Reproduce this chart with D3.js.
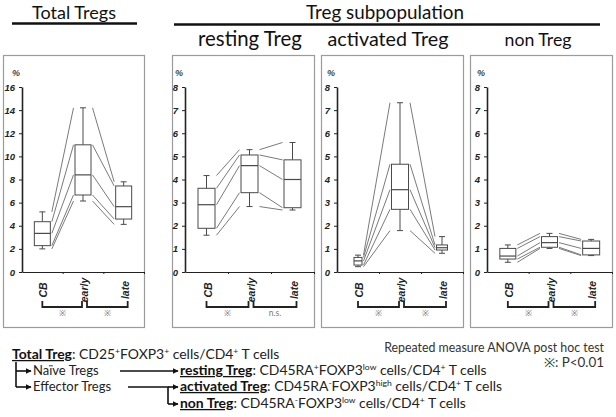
<!DOCTYPE html>
<html><head><meta charset="utf-8">
<script src="https://cdn.jsdelivr.net/npm/d3@7"></script>
<style>body{margin:0;background:#fff} svg{display:block}</style>
</head><body>
<svg id="c" width="616" height="417"></svg>
<script>
// ---------- data ----------
const categories = ["CB", "early", "late"];
// each entry: [min, q1, median, q3, max]
const totalTregs    = [[2.0, 2.28, 3.34, 4.35, 5.2], [6.14, 6.66, 8.4, 11.0, 14.2], [4.12, 4.58, 5.65, 7.44, 7.8]];
const restingTreg   = [[1.59, 1.89, 2.91, 3.62, 4.17], [2.83, 3.43, 4.6, 5.06, 5.29], [2.68, 2.78, 4.0, 4.85, 5.6]];
const activatedTreg = [[0.23, 0.30, 0.48, 0.63, 0.73], [1.79, 2.71, 3.56, 4.66, 7.32], [0.81, 0.95, 1.05, 1.17, 1.53]];
const nonTreg       = [[0.42, 0.56, 0.69, 1.02, 1.17], [1.02, 1.07, 1.27, 1.53, 1.67], [0.71, 0.74, 1.02, 1.34, 1.41]];
const totalTicks  = [0, 2, 4, 6, 8, 10, 12, 14, 16];
const subsetTicks = [0, 1, 2, 3, 4, 5, 6, 7, 8];
const panelTitles = ["", "resting Treg", "activated Treg", "non Treg"];
const significance = [["※", "※"], ["※", "n.s."], ["※", "※"], ["※", "※"]];
const groupHeaders = ["Total Tregs", "Treg subpopulation"];

// ---------- layout ----------
const svg = d3.select("#c");
const TOP = 55, BOTTOM = 327, Y0 = 272, Y1 = 87;
const panels = [
  {data: totalTregs,    ticks: totalTicks,  frame: [3, 144],   axisX: 22,  boxW: [16, 16, 16], title: null},
  {data: restingTreg,   ticks: subsetTicks, frame: [172, 314], axisX: 185, boxW: [17, 17, 17], title: [250, 104]},
  {data: activatedTreg, ticks: subsetTicks, frame: [321, 463], axisX: 337, boxW: [8, 17, 11],  title: [388, 121]},
  {data: nonTreg,       ticks: subsetTicks, frame: [470, 612], axisX: 487, boxW: [16, 16, 17], title: [538, 67]}
];
const axisFont = "'Liberation Sans', Arial, sans-serif";
const textFont = "Lato, 'Open Sans', sans-serif";

// text sized so that its width matches the target width
function fittedText(cxp, yb, str, width, fill) {
  const t = svg.append("text").attr("x", cxp).attr("y", yb).attr("text-anchor", "middle")
    .attr("font-family", textFont).attr("font-size", 15).attr("fill", fill || "#111").text(str);
  const w = t.node().getComputedTextLength();
  t.attr("font-size", 15 * width / w);
  return t;
}

panels.forEach((p, pi) => {
  const g = svg.append("g");
  const ticks = p.ticks;
  const y = d3.scaleLinear().domain([0, ticks[ticks.length - 1]]).range([Y0, Y1]);
  const x = d3.scaleBand().domain(categories).range([p.axisX, p.frame[1]]);
  const cx = c => x(c) + x.bandwidth() / 2;

  g.append("rect").attr("x", p.frame[0] + 0.5).attr("y", TOP + 0.5)
    .attr("width", p.frame[1] - p.frame[0]).attr("height", BOTTOM - TOP)
    .attr("fill", "none").attr("stroke", "#9b9b9b").attr("stroke-width", 1.2);

  // connecting lines between matching statistics
  for (let i = 0; i < categories.length - 1; i++) {
    const a = p.data[i], b = p.data[i + 1];
    const xa = cx(categories[i]) + p.boxW[i] / 2 + 1.5;
    const xb = cx(categories[i + 1]) - p.boxW[i + 1] / 2 - 1.5;
    a.forEach((v, k) => {
      g.append("line").attr("x1", xa).attr("y1", y(v)).attr("x2", xb).attr("y2", y(b[k]))
        .attr("stroke", "#7a7a7a").attr("stroke-width", 1);
    });
  }

  // boxes
  categories.forEach((c, i) => {
    const [mn, q1, md, q3, mx] = p.data[i];
    const xc = cx(c), w = p.boxW[i];
    const col = "#4a4a4a";
    g.append("line").attr("x1", xc).attr("x2", xc).attr("y1", y(q3)).attr("y2", y(mx)).attr("stroke", col);
    g.append("line").attr("x1", xc).attr("x2", xc).attr("y1", y(q1)).attr("y2", y(mn)).attr("stroke", col);
    g.append("line").attr("x1", xc - 3).attr("x2", xc + 3).attr("y1", y(mx)).attr("y2", y(mx)).attr("stroke", col);
    g.append("line").attr("x1", xc - 3).attr("x2", xc + 3).attr("y1", y(mn)).attr("y2", y(mn)).attr("stroke", col);
    g.append("rect").attr("x", xc - w / 2).attr("y", y(q3)).attr("width", w).attr("height", y(q1) - y(q3))
      .attr("fill", "#fff").attr("stroke", col).attr("stroke-width", 1);
    g.append("line").attr("x1", xc - w / 2).attr("x2", xc + w / 2).attr("y1", y(md)).attr("y2", y(md))
      .attr("stroke", col).attr("stroke-width", 1.2);
  });

  // y axis
  const ya = g.append("g").attr("transform", `translate(${p.axisX},0)`)
    .call(d3.axisLeft(y).tickValues(ticks).tickSize(3).tickSizeOuter(0).tickPadding(4));
  ya.select(".domain").attr("stroke", "#222").attr("stroke-width", 1.6);
  ya.selectAll(".tick line").attr("stroke", "#222");
  ya.selectAll("text").attr("font-family", axisFont).attr("font-size", 9.5)
    .attr("font-style", "italic").attr("font-weight", "bold").attr("fill", "#222");
  g.append("text").attr("x", p.axisX - 6).attr("y", 76).attr("text-anchor", "middle")
    .attr("font-family", axisFont).attr("font-size", 9).attr("font-style", "italic")
    .attr("font-weight", "bold").attr("fill", "#444").text("%");

  // x axis
  const xl = d3.scaleLinear().domain([0, categories.length]).range([p.axisX, p.frame[1]]);
  const xa = g.append("g").attr("transform", `translate(0,${Y0})`)
    .call(d3.axisBottom(xl).tickValues(d3.range(1, categories.length + 1)).tickSize(2).tickSizeOuter(0).tickFormat(""));
  xa.select(".domain").attr("stroke", "#222").attr("stroke-width", 1.2);
  xa.selectAll(".tick line").attr("stroke", "#222");

  categories.forEach(c => {
    g.append("text").attr("transform", `translate(${cx(c) + 1},290) rotate(-90)`)
      .attr("text-anchor", "middle").attr("dominant-baseline", "central")
      .attr("font-family", axisFont).attr("font-size", 10.5).attr("font-style", "italic")
      .attr("font-weight", "bold").attr("fill", "#222").text(c);
  });

  // brackets
  const br = [[cx(categories[0]), cx(categories[1]) - 1], [cx(categories[1]) + 4, cx(categories[2]) + 4]];
  br.forEach((b, i) => {
    g.append("path").attr("d", `M${b[0]},301 V307 H${b[1]} V301`)
      .attr("fill", "none").attr("stroke", "#222").attr("stroke-width", 1.8);
    g.append("text").attr("x", (b[0] + b[1]) / 2).attr("y", 316).attr("text-anchor", "middle")
      .attr("font-family", textFont).attr("font-size", 8.5)
      .attr("fill", "#777").text(significance[pi][i]);
  });

  if (p.title) fittedText(p.title[0], 46, panelTitles[pi], p.title[1]);
});

// group headers
fittedText(74, 18.5, groupHeaders[0], 84);
svg.append("line").attr("x1", 12).attr("x2", 137).attr("y1", 23.5).attr("y2", 23.5).attr("stroke", "#111").attr("stroke-width", 2.5);
fittedText(385, 18.5, groupHeaders[1], 158);
svg.append("line").attr("x1", 174).attr("x2", 600).attr("y1", 24.5).attr("y2", 24.5).attr("stroke", "#111").attr("stroke-width", 2.5);

// ---------- legend text ----------
const defs = svg.append("defs");
defs.append("marker").attr("id", "ah").attr("viewBox", "0 0 10 10").attr("refX", 9).attr("refY", 5)
  .attr("markerWidth", 6).attr("markerHeight", 6).attr("orient", "auto").attr("markerUnits", "userSpaceOnUse")
  .append("path").attr("d", "M0,0 L10,5 L0,10 z").attr("fill", "#111");

function richText(x, yb, parts) {
  const t = svg.append("text").attr("x", x).attr("y", yb).attr("font-family", textFont)
    .attr("font-size", 13).attr("fill", "#222");
  parts.forEach(pt => {
    const s = t.append("tspan").text(pt.t);
    if (pt.b) s.attr("font-weight", "bold").style("text-decoration", "underline").attr("fill", "#111");
    if (pt.sup) s.attr("font-size", 8).attr("baseline-shift", "super");
  });
  return t;
}
function squeeze(t, x, k) { t.attr("transform", `translate(${x},0) scale(${k},1) translate(${-x},0)`); }
const cellsCD4 = [{t: " cells/CD4"}, {t: "+", sup: 1}, {t: " T cells"}];
const rows = [
  [12, 359, [{t: "Total Treg", b: 1}, {t: ": CD25"}, {t: "+", sup: 1}, {t: "FOXP3"}, {t: "+", sup: 1}, ...cellsCD4]],
  [33, 375, [{t: "Naïve Tregs"}]],
  [180, 375, [{t: "resting Treg", b: 1}, {t: ": CD45RA"}, {t: "+", sup: 1}, {t: "FOXP3"}, {t: "low", sup: 1}, ...cellsCD4]],
  [33, 391, [{t: "Effector Tregs"}]],
  [180, 391, [{t: "activated  Treg", b: 1}, {t: ": CD45RA"}, {t: "-", sup: 1}, {t: "FOXP3"}, {t: "high", sup: 1}, ...cellsCD4]],
  [180, 408, [{t: "non Treg", b: 1}, {t: ": CD45RA"}, {t: "-", sup: 1}, {t: "FOXP3"}, {t: "low", sup: 1}, ...cellsCD4]]
];
const rowTexts = rows.map(r => richText(r[0], r[1], r[2]));
// common horizontal squeeze, taken from the "resting Treg" row (ends near x=487)
const kx = (487 - 180) / rowTexts[2].node().getComputedTextLength();
rowTexts.forEach((t, i) => { if (i !== 1 && i !== 3) squeeze(t, rows[i][0], kx); });

const rt1 = svg.append("text").attr("x", 604).attr("y", 352).attr("text-anchor", "end").attr("font-family", textFont)
  .attr("font-size", 12.5).attr("fill", "#333").text("Repeated measure ANOVA post hoc test");
squeeze(rt1, 604, (604 - 384) / rt1.node().getComputedTextLength());
const rt2 = svg.append("text").attr("x", 604).attr("y", 367).attr("text-anchor", "end").attr("font-family", textFont)
  .attr("font-size", 12.5).attr("fill", "#333").text("※: P<0.01");
squeeze(rt2, 604, kx);

// arrows
const arrow = (d) => svg.append("path").attr("d", d).attr("fill", "none").attr("stroke", "#111")
  .attr("stroke-width", 1.6).attr("marker-end", "url(#ah)");
svg.append("path").attr("d", "M16,362 V387").attr("stroke", "#111").attr("stroke-width", 1.6);
arrow("M16,371 H31");
arrow("M16,387 H31");
arrow("M120,371 H178");
svg.append("path").attr("d", "M128,387 H168 V404").attr("fill", "none").attr("stroke", "#111").attr("stroke-width", 1.6);
arrow("M168,387 H178");
arrow("M168,404 H178");
</script>
</body></html>
